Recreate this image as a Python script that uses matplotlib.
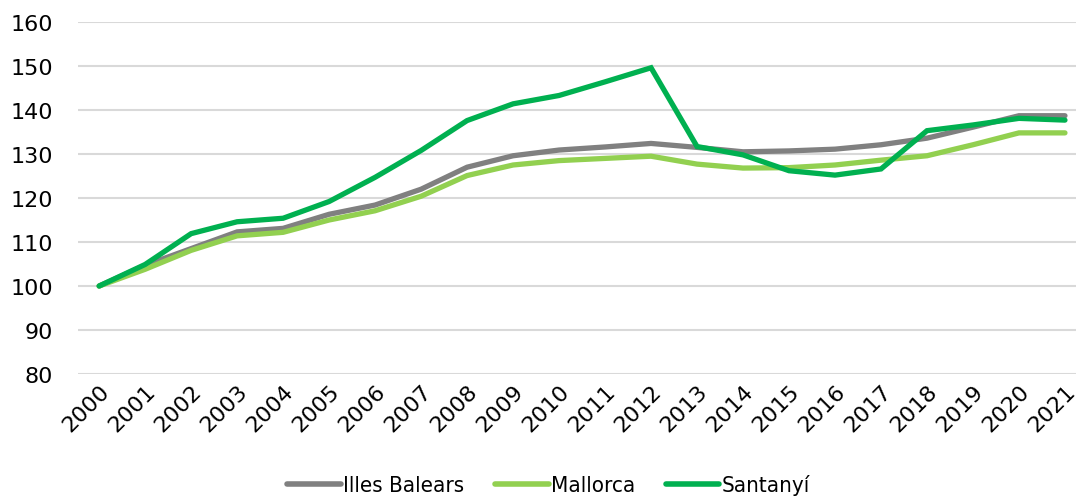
import matplotlib
matplotlib.use("Agg")
import matplotlib.pyplot as plt
from matplotlib.lines import Line2D
from matplotlib.font_manager import FontProperties

years = [str(y) for y in range(2000, 2022)]
illes_balears = [100, 104.7, 108.5, 112.3, 113.1, 116.3, 118.4, 122.0, 127.0, 129.6, 130.9,
                 131.6, 132.4, 131.5, 130.5, 130.7, 131.1, 132.1, 133.6, 136.1, 138.7, 138.7]
mallorca = [100, 103.8, 108.1, 111.4, 112.2, 115.0, 117.1, 120.4, 125.1, 127.5, 128.5,
            129.0, 129.5, 127.7, 126.8, 126.9, 127.5, 128.6, 129.6, 132.1, 134.8, 134.8]
santanyi = [100, 104.9, 111.9, 114.6, 115.4, 119.2, 124.7, 130.8, 137.6, 141.4, 143.3,
            146.4, 149.6, 131.7, 129.8, 126.2, 125.2, 126.6, 135.3, 136.6, 138.1, 137.7]
series_names = ["Illes Balears", "Mallorca", "Santanyí"]
colors = ["#808080", "#92D050", "#00B050"]

fig = plt.figure(figsize=(10.78, 5.02), dpi=100)
ax = fig.add_axes([78/1078, 1-375/502, (1076-78)/1078, (375-23)/502])

x = list(range(len(years)))
for vals, name, c in zip([illes_balears, mallorca, santanyi], series_names, colors):
    ax.plot(x, vals, color=c, lw=3.8, solid_capstyle='round', solid_joinstyle='miter', label=name)

ax.set_ylim(80, 160)
ax.set_yticks(range(80, 161, 10))
ax.set_xlim(-0.46, 21.24)
ax.set_xticks(x)
ax.set_xticklabels(years, rotation=45, ha='right', va='top', rotation_mode='anchor', fontsize=16)
ax.tick_params(axis='y', labelsize=16, length=0, pad=18)
ax.tick_params(axis='x', length=0, pad=5)
ax.grid(axis='y', color='#d9d9d9', lw=1.5)
ax.set_axisbelow(True)
for s in ax.spines.values():
    s.set_visible(False)

handles = [Line2D([0], [0], color=c, lw=4, solid_capstyle='round') for c in colors]
fp = FontProperties(family='DejaVu Sans', stretch='condensed', size=16)
fig.legend(handles, series_names, loc='center', bbox_to_anchor=(0.509, 0.032), ncol=3,
           frameon=False, handlelength=2.4, handletextpad=0.1, columnspacing=1.4,
           borderpad=0.2, prop=fp)

fig.savefig("out.png", dpi=100)
